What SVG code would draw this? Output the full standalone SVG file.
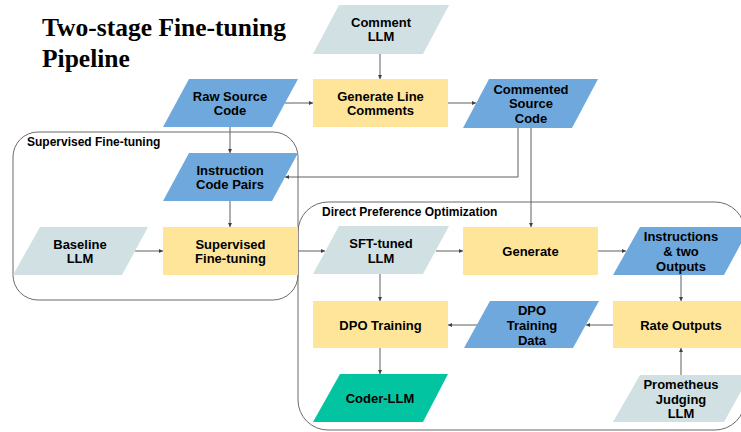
<svg xmlns="http://www.w3.org/2000/svg" width="741" height="432" viewBox="0 0 741 432">
  <style>
    .title { font-family: "Liberation Serif", "Times New Roman", serif; font-weight: bold; font-size: 25.5px; fill: #000; }
    .group-label { font-family: "Liberation Sans", Arial, sans-serif; font-weight: bold; font-size: 12px; fill: #000; }
    .label { font-family: "Liberation Sans", Arial, sans-serif; font-weight: bold; font-size: 13px; fill: #000; text-anchor: middle; }
    .container { fill: none; stroke: #6b6b6b; stroke-width: 1; }
    .data { fill: #6fa8dc; }
    .model { fill: #d0e0e3; }
    .process { fill: #ffe599; }
    .final { fill: #03c4a1; }
    .edge { fill: none; stroke: #5f5f5f; stroke-width: 1; marker-end: url(#arrow); }
  </style>
  <defs>
    <marker id="arrow" viewBox="0 0 6 6" refX="6" refY="3" markerWidth="4" markerHeight="4" orient="auto" markerUnits="userSpaceOnUse">
      <path d="M0,0 L6,3 L0,6 Z" fill="#3f3f3f"/>
    </marker>
  </defs>

  <rect width="741" height="432" fill="#ffffff"/>

  <!-- Title -->
  <text class="title" x="42" y="36">Two-stage Fine-tuning</text>
  <text class="title" x="42" y="67">Pipeline</text>

  <!-- Stage containers -->
  <g id="stage-sft">
    <rect class="container" x="13" y="132" width="285" height="168" rx="25" ry="25"/>
    <text class="group-label" x="27" y="146">Supervised Fine-tuning</text>
  </g>
  <g id="stage-dpo">
    <rect class="container" x="298" y="202" width="447" height="228" rx="30" ry="30"/>
    <text class="group-label" x="322" y="216">Direct Preference Optimization</text>
  </g>

  <!-- Connectors -->
  <g id="connectors">
    <path class="edge" d="M380,54 V79"/>
    <path class="edge" d="M285,103 H313"/>
    <path class="edge" d="M448,103 H476"/>
    <path class="edge" d="M230,127 V153"/>
    <path class="edge" d="M518,128 V177 H285"/>
    <path class="edge" d="M531,128 V227"/>
    <path class="edge" d="M230,201 V227"/>
    <path class="edge" d="M135,251 H163"/>
    <path class="edge" d="M298,251 H325"/>
    <path class="edge" d="M436,251 H463"/>
    <path class="edge" d="M598,251 H626"/>
    <path class="edge" d="M681,275 V301"/>
    <path class="edge" d="M613,325 H586"/>
    <path class="edge" d="M477,325 H448"/>
    <path class="edge" d="M380,274 V301"/>
    <path class="edge" d="M380,348 V374"/>
    <path class="edge" d="M681,375 V348"/>
  </g>

  <!-- Nodes -->
  <g id="comment-llm">
    <polygon class="model" points="339,5 449,5 423,54 313,54"/>
    <text class="label" x="381" y="27">Comment</text>
    <text class="label" x="381" y="41">LLM</text>
  </g>
  <g id="raw-source-code">
    <polygon class="data" points="189,79 298,79 272,127 163,127"/>
    <text class="label" x="230" y="101">Raw Source</text>
    <text class="label" x="230" y="115">Code</text>
  </g>
  <g id="generate-line-comments">
    <rect class="process" x="313" y="79" width="135" height="48"/>
    <text class="label" x="380.5" y="101">Generate Line</text>
    <text class="label" x="380.5" y="115">Comments</text>
  </g>
  <g id="commented-source-code">
    <polygon class="data" points="489,79 598,79 572,128 463,128"/>
    <text class="label" x="531" y="93.5">Commented</text>
    <text class="label" x="531" y="108">Source</text>
    <text class="label" x="531" y="122.5">Code</text>
  </g>
  <g id="instruction-code-pairs">
    <polygon class="data" points="189,153 298,153 272,201 163,201"/>
    <text class="label" x="230" y="174.5">Instruction</text>
    <text class="label" x="230" y="188.5">Code Pairs</text>
  </g>
  <g id="baseline-llm">
    <polygon class="model" points="40,227 148,227 122,275 13,275"/>
    <text class="label" x="80" y="248.5">Baseline</text>
    <text class="label" x="80" y="262.5">LLM</text>
  </g>
  <g id="supervised-fine-tuning">
    <rect class="process" x="163" y="227" width="135" height="48"/>
    <text class="label" x="230.5" y="248.5">Supervised</text>
    <text class="label" x="230.5" y="262.5">Fine-tuning</text>
  </g>
  <g id="sft-tuned-llm">
    <polygon class="model" points="339,226 449,226 423,274 313,274"/>
    <text class="label" x="381" y="248">SFT-tuned</text>
    <text class="label" x="381" y="263">LLM</text>
  </g>
  <g id="generate">
    <rect class="process" x="463" y="227" width="135" height="48"/>
    <text class="label" x="530.5" y="255.5">Generate</text>
  </g>
  <g id="instructions-two-outputs">
    <polygon class="data" points="640,227 750,227 724,275 613,275"/>
    <text class="label" x="681" y="240.5">Instructions</text>
    <text class="label" x="681" y="255.5">&amp; two</text>
    <text class="label" x="681" y="270.5">Outputs</text>
  </g>
  <g id="dpo-training">
    <rect class="process" x="313" y="301" width="135" height="47"/>
    <text class="label" x="380.5" y="329.5">DPO Training</text>
  </g>
  <g id="dpo-training-data">
    <polygon class="data" points="490,301 599,301 573,348 464,348"/>
    <text class="label" x="532" y="314.5">DPO</text>
    <text class="label" x="532" y="329.5">Training</text>
    <text class="label" x="532" y="344.5">Data</text>
  </g>
  <g id="rate-outputs">
    <rect class="process" x="613" y="301" width="135" height="47"/>
    <text class="label" x="681" y="329.5">Rate Outputs</text>
  </g>
  <g id="coder-llm">
    <polygon class="final" points="340,374 448,374 423,422 313,422"/>
    <text class="label" x="380" y="402.5">Coder-LLM</text>
  </g>
  <g id="prometheus-judging-llm">
    <polygon class="model" points="640,375 750,375 724,422 613,422"/>
    <text class="label" x="681" y="388.5">Prometheus</text>
    <text class="label" x="681" y="403.5">Judging</text>
    <text class="label" x="681" y="417.5">LLM</text>
  </g>
</svg>
